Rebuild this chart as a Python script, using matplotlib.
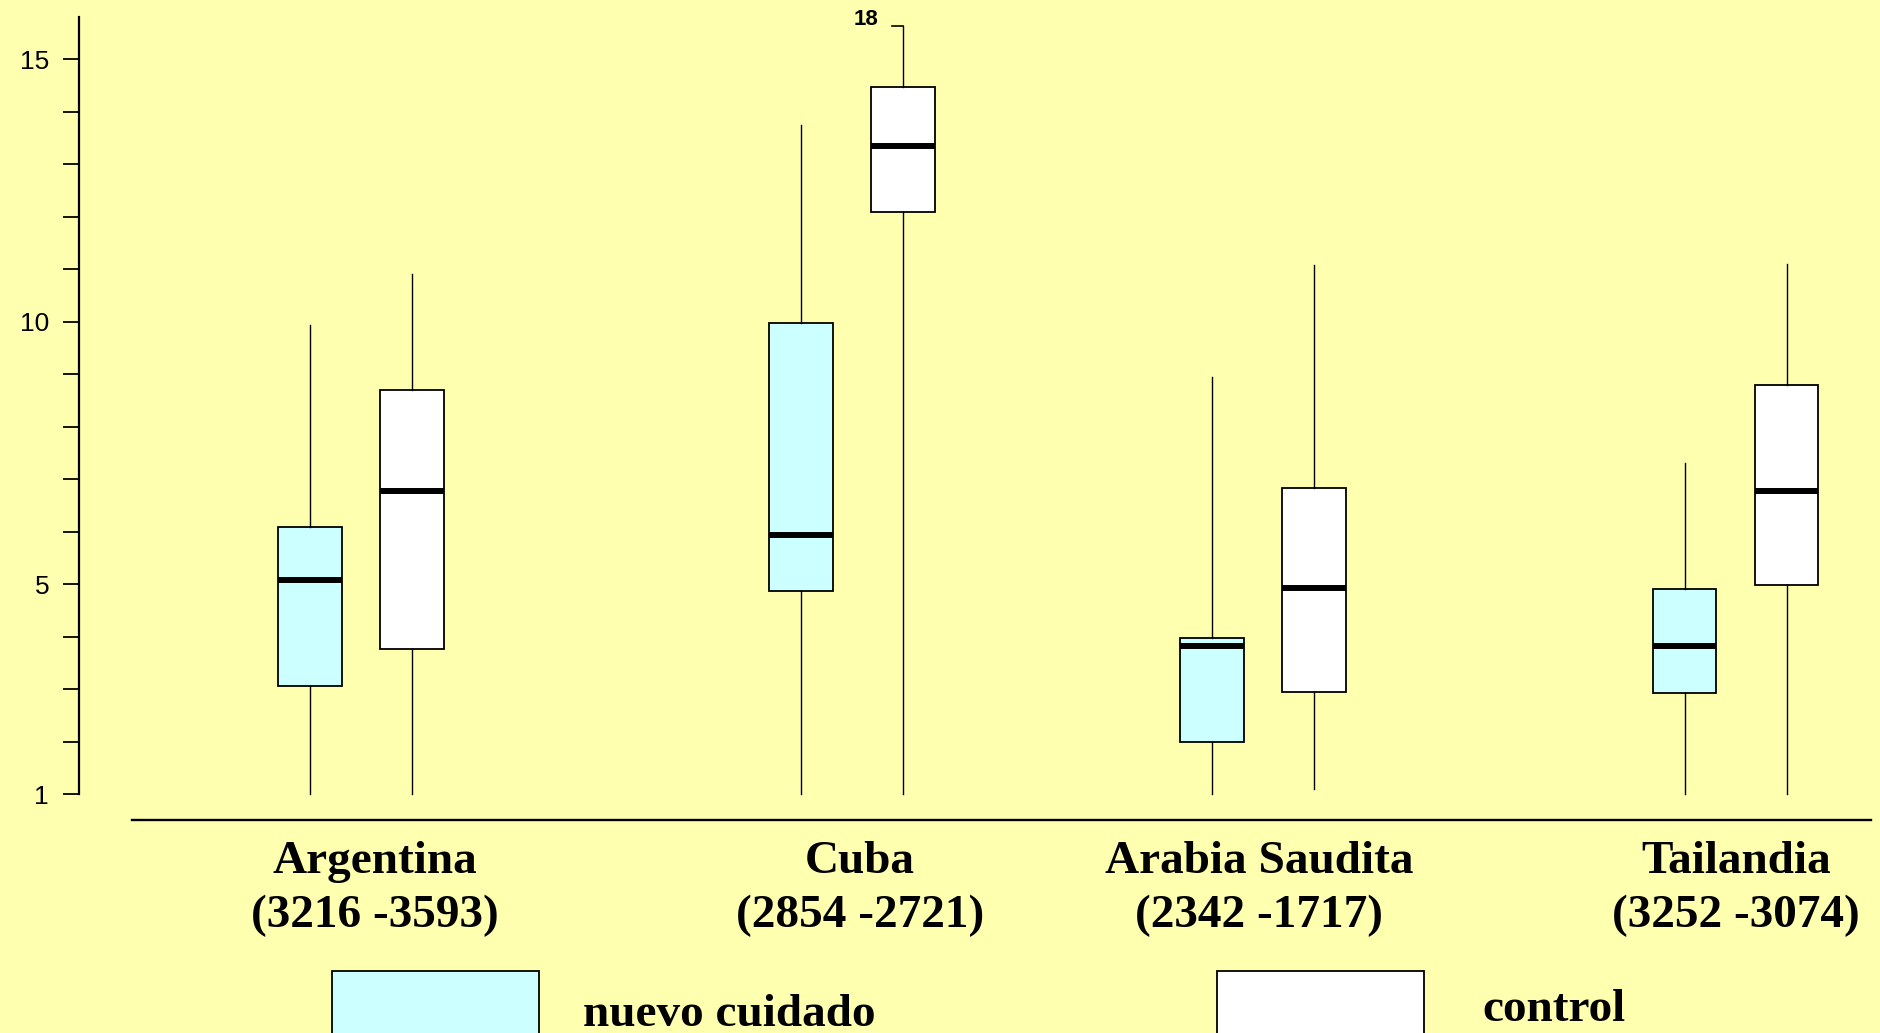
import matplotlib
matplotlib.use('Agg')
import matplotlib.pyplot as plt
import matplotlib.transforms as mtransforms
from matplotlib.patches import Rectangle
from matplotlib.ticker import FixedLocator

# ---------------- data ----------------
countries = ['Argentina', 'Cuba', 'Arabia Saudita', 'Tailandia']
sample_sizes = ['(3216 -3593)', '(2854 -2721)', '(2342 -1717)', '(3252 -3074)']
series_names = ['nuevo cuidado', 'control']

nuevo_low = [1.0, 1.0, 1.0, 1.0]
nuevo_q1 = [3.06, 4.87, 1.99, 2.93]
nuevo_med = [5.07, 5.94, 3.82, 3.82]
nuevo_q3 = [6.08, 9.98, 3.98, 4.91]
nuevo_high = [9.94, 13.75, 8.95, 7.31]

control_low = [1.0, 1.0, 1.1, 1.0]
control_q1 = [3.77, 12.08, 2.95, 4.98]
control_med = [6.78, 13.34, 4.93, 6.78]
control_q3 = [8.70, 14.46, 6.83, 8.79]
control_high = [10.91, 18.0, 11.08, 11.10]

ytick_major = [1, 5, 10, 15]
ytick_minor = [2, 3, 4, 6, 7, 8, 9, 11, 12, 13, 14]

# ---------------- layout / style ----------------
BG = '#FFFFB0'
CYAN = '#CCFFFF'
WHITE = '#FFFFFF'
group_centers = [301, 710.5, 1053.5, 1447.5]
label_centers = [313, 717, 1050, 1448]
offset = 42.5
box_w = 53
XMIN, XMAX = 66, 1560
YMIN, YMAX = 0.504, 15.62

fig = plt.figure(figsize=(18.8, 10.33), dpi=100, facecolor=BG)
ax = fig.add_axes([0.0420, 0.206, 0.953, 0.7684], facecolor=BG)

def stats(lo, q1, med, q3, hi):
    return [dict(whislo=a, q1=b, med=c, q3=d, whishi=e, fliers=[])
            for a, b, c, d, e in zip(lo, q1, med, q3, hi)]

series = [
    (stats(nuevo_low, nuevo_q1, nuevo_med, nuevo_q3, nuevo_high), -offset, CYAN),
    (stats(control_low, control_q1, control_med, control_q3, control_high), offset, WHITE),
]

for st, off, col in series:
    pos = [g + off for g in group_centers]
    ax.bxp(st, positions=pos, widths=box_w, patch_artist=True,
           showcaps=False, showfliers=False,
           boxprops=dict(facecolor=col, edgecolor='black', linewidth=1.3),
           whiskerprops=dict(color='black', linewidth=1.0),
           medianprops=dict(color='black', linewidth=4.3, solid_capstyle='butt'),
           manage_ticks=False)
    # values beyond the top of the scale: break mark + value label
    for p, s in zip(pos, st):
        if s['whishi'] > YMAX:
            ax.plot([p - 9, p], [YMAX, YMAX], color='black', linewidth=1.2,
                    clip_on=False)
            ax.annotate(f"{s['whishi']:.0f}", xy=(p, YMAX), xytext=(-24, 7),
                        textcoords='offset pixels', ha='right', va='center',
                        fontsize=16, fontweight='bold', family='Liberation Sans')

ax.set_xlim(XMIN, XMAX)
ax.set_ylim(YMIN, YMAX)

# spines
for s in ['top', 'right']:
    ax.spines[s].set_visible(False)
ax.spines['left'].set_bounds(1, 15.8)
ax.spines['left'].set_linewidth(1.6)
ax.spines['bottom'].set_bounds(110, XMAX)
ax.spines['bottom'].set_linewidth(1.7)

ax.xaxis.set_major_locator(FixedLocator([]))
ax.yaxis.set_major_locator(FixedLocator(ytick_major))
ax.yaxis.set_minor_locator(FixedLocator(ytick_minor))
ax.set_yticklabels([str(v) for v in ytick_major])
ax.tick_params(axis='y', which='both', direction='out', length=11.5, width=1.3,
               pad=10, labelsize=19)
for lab in ax.get_yticklabels():
    lab.set_family('Liberation Sans')

# category labels
trans = mtransforms.blended_transform_factory(ax.transData, fig.transFigure)
for x, name, n in zip(label_centers, countries, sample_sizes):
    ax.text(x, 0.1545, name, transform=trans, ha='center', va='baseline',
            fontsize=34, fontweight='bold', family='Liberation Serif', clip_on=False)
    ax.text(x, 0.1025, n, transform=trans, ha='center', va='baseline',
            fontsize=34, fontweight='bold', family='Liberation Serif', clip_on=False)

# legend
legend_x = [277, 1015]
legend_text_x = [486, 1236]
legend_text_y = [0.007, 0.012]
for lx, tx, ty, col, name in zip(legend_x, legend_text_x, legend_text_y,
                                 [CYAN, WHITE], series_names):
    r = Rectangle((lx, -0.05), 173, 0.11, transform=trans, facecolor=col,
                  edgecolor='black', linewidth=1.3, clip_on=False)
    ax.add_artist(r)
    ax.text(tx, ty, name, transform=trans, ha='left', va='baseline',
            fontsize=34, fontweight='bold', family='Liberation Serif', clip_on=False)

fig.savefig('out.png', dpi=100, facecolor=BG)
